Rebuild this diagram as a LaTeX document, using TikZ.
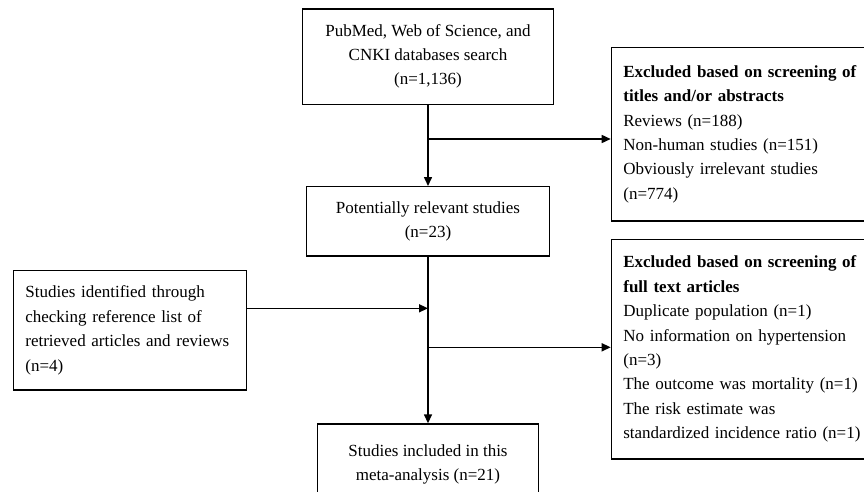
\documentclass[tikz,border=0pt]{standalone}
\usepackage{fontspec}
\setmainfont{Liberation Serif}
\usetikzlibrary{arrows.meta}
\begin{document}
\begin{tikzpicture}[x=1pt,y=-1pt,
  box/.style={draw, line width=1.3pt, inner sep=0pt, align=center, font=\fontsize{17}{24}\selectfont},
  side/.style={draw, line width=1.3pt, inner xsep=12pt, inner ysep=0pt, align=left, anchor=west, font=\fontsize{17}{24.4}\selectfont},
  link/.style={line width=1.5pt, -{Triangle[length=9pt,width=8pt]}}]
\useasboundingbox (0,0) rectangle (864,492);
\clip (0,0) rectangle (864,492);
\node[box, minimum width=251.5pt, minimum height=95.5pt] (search) at (428,56.7) {PubMed, Web of Science, and\\CNKI databases search\\(n=1,136)};
\node[box, minimum width=243.3pt, minimum height=69.3pt] (relevant) at (428,221.3) {Potentially relevant studies\\(n=23)};
\node[box, minimum width=221pt, minimum height=80pt, anchor=north] (included) at (428,423.3) {Studies included in this\\meta-analysis (n=21)};
\node[side, text width=209pt, minimum height=119.3pt] (refs) at (12.7,330.3) {Studies identified through\\checking reference list of\\retrieved articles and reviews\\(n=4)};
\node[side, text width=240pt, minimum height=173.7pt] (excl1) at (610.7,134.2) {\textbf{Excluded based on screening of}\\\textbf{titles and/or abstracts}\\Reviews (n=188)\\Non-human studies (n=151)\\Obviously irrelevant studies\\(n=774)};
\node[side, text width=240pt, minimum height=219.7pt] (excl2) at (610.7,349.2) {\textbf{Excluded based on screening of}\\\textbf{full text articles}\\Duplicate population (n=1)\\No information on hypertension\\(n=3)\\The outcome was mortality (n=1)\\The risk estimate was\\standardized incidence ratio (n=1)};
\coordinate (split1) at (428,139);
\coordinate (join) at (428,308.3);
\coordinate (split2) at (428,347.3);
\draw[link] (search) -- (relevant);
\draw[link] (split1) -- (split1 -| excl1.west);
\draw[link] (relevant) -- (included);
\draw[link] (refs.east |- join) -- (join);
\draw[link] (split2) -- (split2 -| excl2.west);
\end{tikzpicture}
\end{document}
